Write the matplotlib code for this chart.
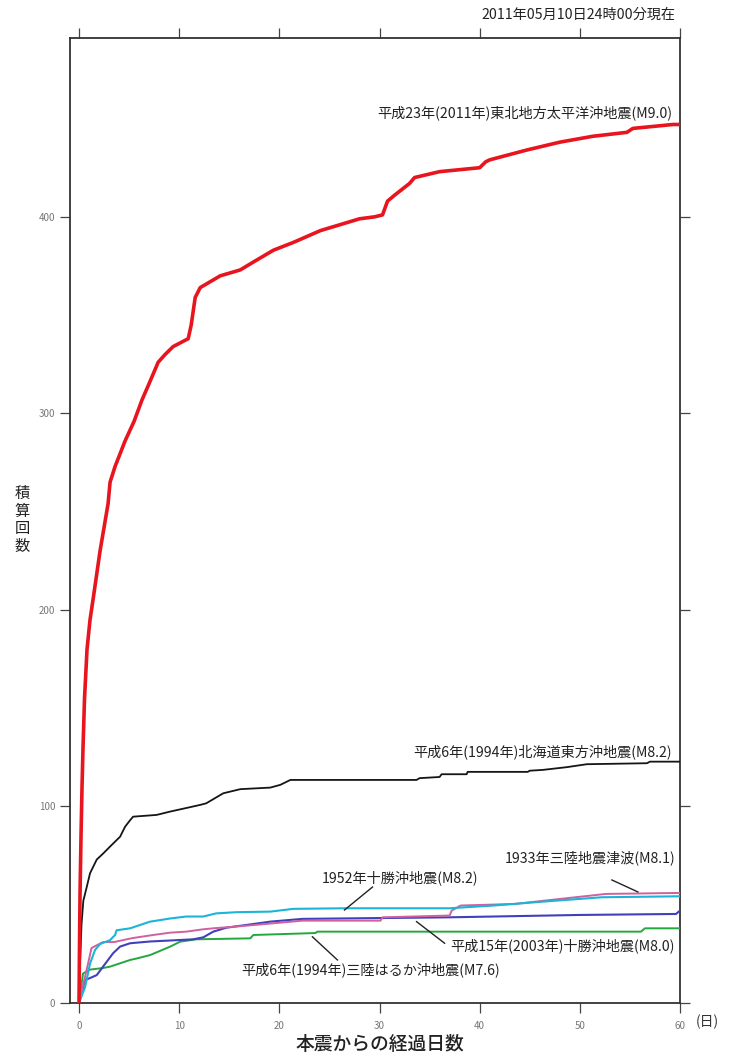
import matplotlib
matplotlib.use("Agg")
import matplotlib.pyplot as plt

plt.rcParams['font.family'] = ['Noto Sans CJK JP', 'DejaVu Sans']

# ---- data (days since mainshock, cumulative count) ----
red_days = [0, 0.05, 0.1, 0.2, 0.3, 0.4, 0.55, 0.8, 1.1, 1.45, 2.1, 2.9, 3.1, 3.6, 4.6, 5.5,
            6.3, 6.9, 7.9, 8.6, 9.4, 10.9, 11.2, 11.6, 12.1, 14.1, 16.1, 17.4, 19.4, 21.4, 24.1,
            26.7, 28.0, 29.5, 30.3, 30.8, 31.5, 33.0, 33.5, 36.0, 40.0, 40.6, 41.0, 44.7, 48.0,
            51.3, 54.7, 55.3, 59.3, 60]
red_counts = [0, 30, 55, 85, 110, 130, 155, 180, 195, 207, 230, 254, 265, 273, 286, 296,
              307, 314, 326, 330, 334, 338, 345, 359, 364, 370, 373, 377, 383, 387, 393,
              397, 399, 400, 401, 408, 411, 417, 420, 423, 425, 428, 429, 434, 438,
              441, 443, 445, 447, 447]

black_days = [0, 0.1, 0.25, 0.43, 0.77, 1.1, 1.77, 2.4, 3.1, 4.1, 4.6, 5.1, 5.4, 7.75, 9.1,
              10.7, 12.1, 12.7, 14.4, 16.1, 19.1, 20.1, 21.1, 33.7, 34.0, 36.0, 36.2, 38.7,
              38.8, 44.8, 45.0, 46.3, 48.7, 50.7, 56.7, 57.0, 60]
black_counts = [0, 20, 40, 52, 59, 66, 73, 76, 79.6, 84.6, 89.7, 93, 94.8, 95.7, 97.4,
                99.2, 100.8, 101.6, 106.7, 108.8, 109.6, 111, 113.5, 113.5, 114.4, 115, 116.4,
                116.4, 117.6, 117.6, 118.2, 118.6, 120, 121.5, 122, 122.8, 122.8]

cyan_days = [0, 0.6, 1.1, 1.6, 2.1, 3.1, 3.6, 3.75, 5.1, 7.1, 9.1, 10.7, 12.4, 13.7, 15.7,
             19.1, 21.4, 26.6, 37, 41.4, 47.4, 52.2, 60]
cyan_counts = [0, 8, 20, 27, 30, 32, 34.6, 37, 38, 41.4, 43, 44, 44, 45.6, 46.2,
               46.5, 47.9, 48.2, 48.2, 49.6, 52, 53.8, 54.3]

pink_days = [0, 0.9, 1.25, 2.4, 3.5, 5.3, 7.4, 9.1, 10.7, 12.4, 13.4, 16.4, 19.7, 22.3,
             30.1, 30.3, 37, 37.2, 38.1, 43.5, 47.4, 52.6, 60]
pink_counts = [0, 20, 28, 31, 31, 33, 34.6, 35.8, 36.3, 37.5, 38, 39.2, 40.7, 41.9,
               41.9, 43.6, 44.5, 47, 49.6, 50.4, 52.6, 55.5, 56]

blue_days = [0, 0.6, 1.1, 1.77, 2.4, 2.9, 3.4, 4.1, 5.1, 7.1, 9.1, 11.4, 12.4, 13.4, 14.7,
             16.7, 19.1, 22.3, 37, 50, 59.6, 60]
blue_counts = [0, 11.7, 12.7, 14.2, 18.5, 21.9, 25.3, 28.7, 30.4, 31.3, 31.8, 32.4, 33.4,
               36.3, 38.3, 39.7, 41.4, 42.8, 43.6, 44.8, 45.3, 47]

green_days = [0, 0.4, 1.1, 2.4, 3.1, 4.1, 5.1, 5.8, 7.1, 7.9, 9.1, 10.1, 11.7, 17.1, 17.4,
              23.6, 23.8, 56.1, 56.5, 60]
green_counts = [0, 15, 17, 17.8, 18.5, 20.2, 21.9, 22.7, 24.4, 26.1, 28.7, 31.2, 32.4,
                32.9, 34.6, 35.6, 36.3, 36.3, 38, 38]

x_ticks = [0, 10, 20, 30, 40, 50, 60]
y_ticks = [0, 100, 200, 300, 400]

label_2011 = "平成23年(2011年)東北地方太平洋沖地震(M9.0)"
label_1994h = "平成6年(1994年)北海道東方沖地震(M8.2)"
label_1933 = "1933年三陸地震津波(M8.1)"
label_1952 = "1952年十勝沖地震(M8.2)"
label_2003 = "平成15年(2003年)十勝沖地震(M8.0)"
label_1994s = "平成6年(1994年)三陸はるか沖地震(M7.6)"

# ---- figure ----
fig = plt.figure(figsize=(7.38, 10.57), dpi=100)
ax = fig.add_axes([70 / 738, 1 - 1003 / 1057, 610 / 738, (1003 - 38) / 1057])

ax.plot(green_days, green_counts, color='#22a83c', lw=1.4, zorder=3)
ax.plot(blue_days, blue_counts, color='#4040bc', lw=1.5, zorder=3)
ax.plot(pink_days, pink_counts, color='#d0609e', lw=1.4, zorder=3)
ax.plot(cyan_days, cyan_counts, color='#1cb4d8', lw=1.5, zorder=3)
ax.plot(black_days, black_counts, color='#151515', lw=1.3, zorder=4)
ax.plot(red_days, red_counts, color='#e8141e', lw=2.6, zorder=5)

ax.set_xlim(-0.9, 60)
ax.set_ylim(0, 491)
ax.set_xticks(x_ticks)
ax.set_yticks(y_ticks)
ax.tick_params(axis='both', direction='out', length=7, width=0.9, color='#444444',
               labelsize=7, labelcolor='#777777', top=True, right=True)
ax.tick_params(axis='x', pad=6)
for s in ax.spines.values():
    s.set_color('#333333')
    s.set_linewidth(1.3)

txt_kw = dict(fontsize=10.2, color='#222222', zorder=6)
ax.text(59.2, 453, label_2011, ha='right', va='center', **txt_kw)
ax.text(59.2, 127.7, label_1994h, ha='right', va='center', **txt_kw)
ax.text(59.5, 73.8, label_1933, ha='right', va='center', **txt_kw)
ax.text(32.0, 63.6, label_1952, ha='center', va='center', **txt_kw)
ax.text(59.5, 29.0, label_2003, ha='right', va='center', **txt_kw)
ax.text(29.1, 16.8, label_1994s, ha='center', va='center', **txt_kw)

lk = dict(color='#222222', lw=1.0, zorder=6)
ax.plot([53.2, 55.8], [62.6, 56.5], **lk)
ax.plot([29.3, 26.5], [59.0, 47.3], **lk)
ax.plot([33.7, 36.5], [41.4, 30.4], **lk)
ax.plot([23.3, 25.8], [33.7, 21.9], **lk)

fig.text(675 / 738, 1 - 15 / 1057, "2011年05月10日24時00分現在", ha='right', va='center',
         fontsize=10.2, color='#222222')
fig.text(380 / 738, 1 - 1045 / 1057, "本震からの経過日数", ha='center', va='center',
         fontsize=13.5, color='#222222', fontweight='medium')
fig.text(22 / 738, 1 - 520 / 1057, "\n".join("積算回数"), ha='center', va='center',
         fontsize=11, color='#222222', linespacing=1.05)
fig.text(707 / 738, 1 - 1022 / 1057, "(日)", ha='center', va='center',
         fontsize=10, color='#333333')

fig.savefig("out.png", dpi=100, facecolor='white')
